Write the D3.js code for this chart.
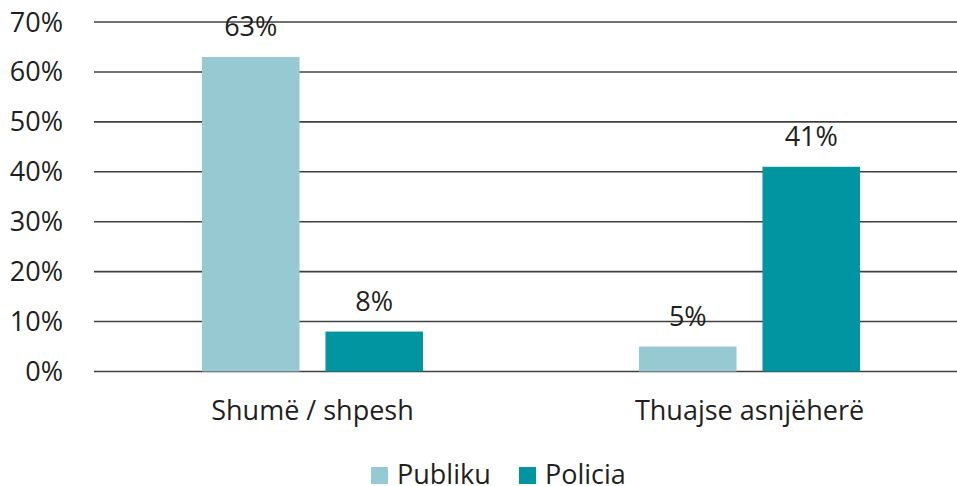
<!DOCTYPE html>
<html>
<head>
<meta charset="utf-8">
<script src="https://cdn.jsdelivr.net/npm/d3@7"></script>
<style>
  body { margin: 0; background: #fff; }
  text { font-family: "Open Sans", sans-serif; fill: #231f20; }
</style>
</head>
<body>
<svg id="chart" width="957" height="486"></svg>
<script>
var categories = ["Shumë / shpesh", "Thuajse asnjëherë"];
var seriesNames = ["Publiku", "Policia"];
var publiku = [63, 5];
var policia = [8, 41];
var yTicks = [0, 10, 20, 30, 40, 50, 60, 70];
var colors = ["#96c9d2", "#0095a0"];

var svg = d3.select("#chart");
var plotLeft = 94, plotRight = 968, plotTop = 22, plotBottom = 371.5;

var x = d3.scaleBand().domain(categories).range([plotLeft, plotRight]).paddingInner(0).paddingOuter(0);
var x1 = d3.scaleBand().domain(seriesNames).range([108, x.bandwidth() - 108]).paddingInner(0.21);
var y = d3.scaleLinear().domain([0, 70]).range([plotBottom, plotTop]);

var data = categories.map(function (c, i) {
  return { cat: c, values: [ { key: "Publiku", v: publiku[i] }, { key: "Policia", v: policia[i] } ] };
});

// gridlines
svg.append("g")
  .selectAll("line")
  .data(yTicks)
  .join("line")
  .attr("x1", plotLeft).attr("x2", plotRight)
  .attr("y1", d => y(d)).attr("y2", d => y(d))
  .attr("stroke", "#404040")
  .attr("stroke-width", 1.6);

// y labels
svg.append("g")
  .selectAll("text")
  .data(yTicks)
  .join("text")
  .attr("x", 63)
  .attr("y", d => y(d) + 9.5)
  .attr("text-anchor", "end")
  .attr("font-size", "27px")
  .text(d => d + "%");

// bars
var groups = svg.append("g")
  .selectAll("g")
  .data(data)
  .join("g")
  .attr("transform", d => "translate(" + x(d.cat) + ",0)");

groups.selectAll("rect")
  .data(d => d.values)
  .join("rect")
  .attr("x", d => x1(d.key))
  .attr("y", d => y(d.v))
  .attr("width", x1.bandwidth())
  .attr("height", d => y(0) - y(d.v))
  .attr("fill", (d, i) => colors[i]);

groups.selectAll("text")
  .data(d => d.values)
  .join("text")
  .attr("x", d => x1(d.key) + x1.bandwidth() / 2)
  .attr("y", d => y(d.v) - 21)
  .attr("text-anchor", "middle")
  .attr("font-size", "27px")
  .text(d => d.v + "%");

// category labels
svg.append("g")
  .selectAll("text")
  .data(categories)
  .join("text")
  .attr("x", d => x(d) + x.bandwidth() / 2)
  .attr("y", 420)
  .attr("text-anchor", "middle")
  .attr("font-size", "27px")
  .text(d => d);

// legend
var legendX = [371, 519];
var legend = svg.append("g")
  .selectAll("g")
  .data(seriesNames)
  .join("g")
  .attr("transform", (d, i) => "translate(" + legendX[i] + ",467)");
legend.append("rect")
  .attr("width", 17).attr("height", 17)
  .attr("fill", (d, i) => colors[i]);
legend.append("text")
  .attr("x", 26).attr("y", 17)
  .attr("font-size", "27px")
  .text(d => d);
</script>
</body>
</html>
